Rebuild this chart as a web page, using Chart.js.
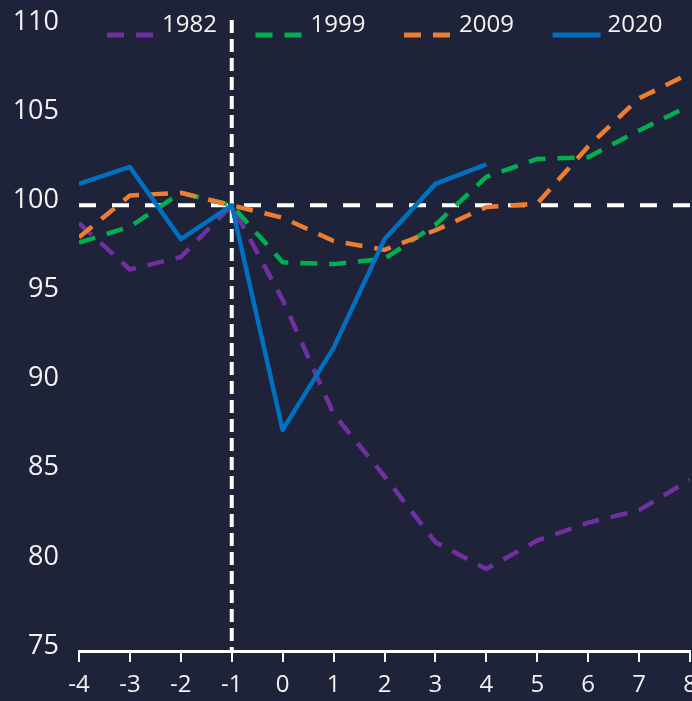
<!DOCTYPE html>
<html>
<head>
<meta charset="utf-8">
<script src="https://cdn.jsdelivr.net/npm/chart.js@4"></script>
<style>
  html, body { margin: 0; padding: 0; background: #1f2339; overflow: hidden; }
  #wrap { position: relative; width: 692px; height: 701px; }
</style>
</head>
<body>
<div id="wrap"><canvas id="recessionChart"></canvas></div>
<script>
// quarters relative to the pre-recession peak (t = -1 -> index 100)
const quarters = [-4, -3, -2, -1, 0, 1, 2, 3, 4, 5, 6, 7, 8];
const s1982 = [99.0, 96.4, 97.1, 100.0, 94.7, 88.3, 84.8, 81.1, 79.6, 81.2, 82.2, 82.9, 84.6];
const s1999 = [97.9, 98.8, 100.7, 100.0, 96.8, 96.7, 97.0, 98.9, 101.6, 102.6, 102.7, 104.2, 105.6];
const s2009 = [98.2, 100.55, 100.7, 100.0, 99.3, 98.0, 97.5, 98.6, 99.9, 100.1, 103.3, 106.0, 107.4];
const s2020 = [101.2, 102.15, 98.1, 100.0, 87.4, 92.0, 98.1, 101.2, 102.3];
const yTicks = [75, 80, 85, 90, 95, 100, 105, 110];
const baseLevel = 100;
const peakQuarter = -1;

const textColor = '#f2f2f2';
Chart.defaults.font.family = "'Open Sans', sans-serif";
Chart.defaults.color = textColor;

function toPoints(vals) {
  return vals.map((v, i) => ({x: quarters[i], y: v}));
}

// white dashed reference lines (100 level and peak quarter)
const refLines = {
  id: 'refLines',
  beforeDatasetsDraw(chart) {
    const {ctx, chartArea, scales: {x, y}} = chart;
    ctx.save();
    ctx.strokeStyle = '#ffffff';
    ctx.lineWidth = 4;
    ctx.setLineDash([17, 16]);
    const yb = y.getPixelForValue(baseLevel);
    ctx.beginPath();
    ctx.moveTo(chartArea.left, yb);
    ctx.lineTo(chart.width, yb);
    ctx.stroke();
    ctx.setLineDash([13, 6]);
    const xp = x.getPixelForValue(peakQuarter);
    ctx.beginPath();
    ctx.moveTo(xp, chartArea.top - 7);
    ctx.lineTo(xp, chartArea.bottom);
    ctx.stroke();
    ctx.restore();
  }
};

// legend drawn across the top of the plot
const topLegend = {
  id: 'topLegend',
  afterDraw(chart) {
    const {ctx, chartArea} = chart;
    ctx.save();
    ctx.font = "24px 'Open Sans'";
    ctx.textBaseline = 'middle';
    chart.data.datasets.forEach((ds, i) => {
      const x0 = chartArea.left + 28 + i * 148.5;
      ctx.strokeStyle = ds.borderColor;
      ctx.lineWidth = 5;
      ctx.setLineDash(ds.borderDash || []);
      ctx.beginPath();
      ctx.moveTo(x0, 35);
      ctx.lineTo(x0 + 48, 35);
      ctx.stroke();
      ctx.fillStyle = textColor;
      ctx.fillText(ds.label, x0 + 55, 25);
    });
    ctx.restore();
  }
};

const dash = [17, 12];
new Chart(document.getElementById('recessionChart'), {
  type: 'line',
  data: {
    datasets: [
      {label: '1982', data: toPoints(s1982), borderColor: '#7030a0', borderDash: dash, order: 3},
      {label: '1999', data: toPoints(s1999), borderColor: '#00b050', borderDash: dash, order: 2},
      {label: '2009', data: toPoints(s2009), borderColor: '#ed7d31', borderDash: dash, order: 1},
      {label: '2020', data: toPoints(s2020), borderColor: '#0070c0', order: 0}
    ]
  },
  options: {
    responsive: true,
    maintainAspectRatio: false,
    animation: false,
    layout: {padding: {top: 27, right: 2, left: 0, bottom: 0}},
    elements: {
      point: {radius: 0},
      line: {borderWidth: 4.5, tension: 0, borderJoinStyle: 'round', fill: false}
    },
    plugins: {legend: {display: false}, tooltip: {enabled: false}},
    scales: {
      x: {
        type: 'linear',
        min: -4,
        max: 8,
        grid: {display: true, drawOnChartArea: false, drawTicks: true, tickLength: 11, color: '#ffffff', lineWidth: 2},
        border: {display: true, color: '#ffffff', width: 3},
        ticks: {stepSize: 1, padding: 9, font: {size: 24}, color: textColor, maxRotation: 0},
        afterFit(scale) { scale.height = 50; scale.paddingRight = 0; }
      },
      y: {
        min: 75,
        max: 110,
        grid: {display: false, drawTicks: false},
        border: {display: false},
        afterBuildTicks(scale) { scale.ticks = yTicks.map(v => ({value: v})); },
        ticks: {padding: 20, labelOffset: -5, font: {size: 27}, color: textColor},
        afterFit(scale) { scale.width = 79; scale.paddingTop = 0; scale.paddingBottom = 0; }
      }
    }
  },
  plugins: [refLines, topLegend]
});
</script>
</body>
</html>
